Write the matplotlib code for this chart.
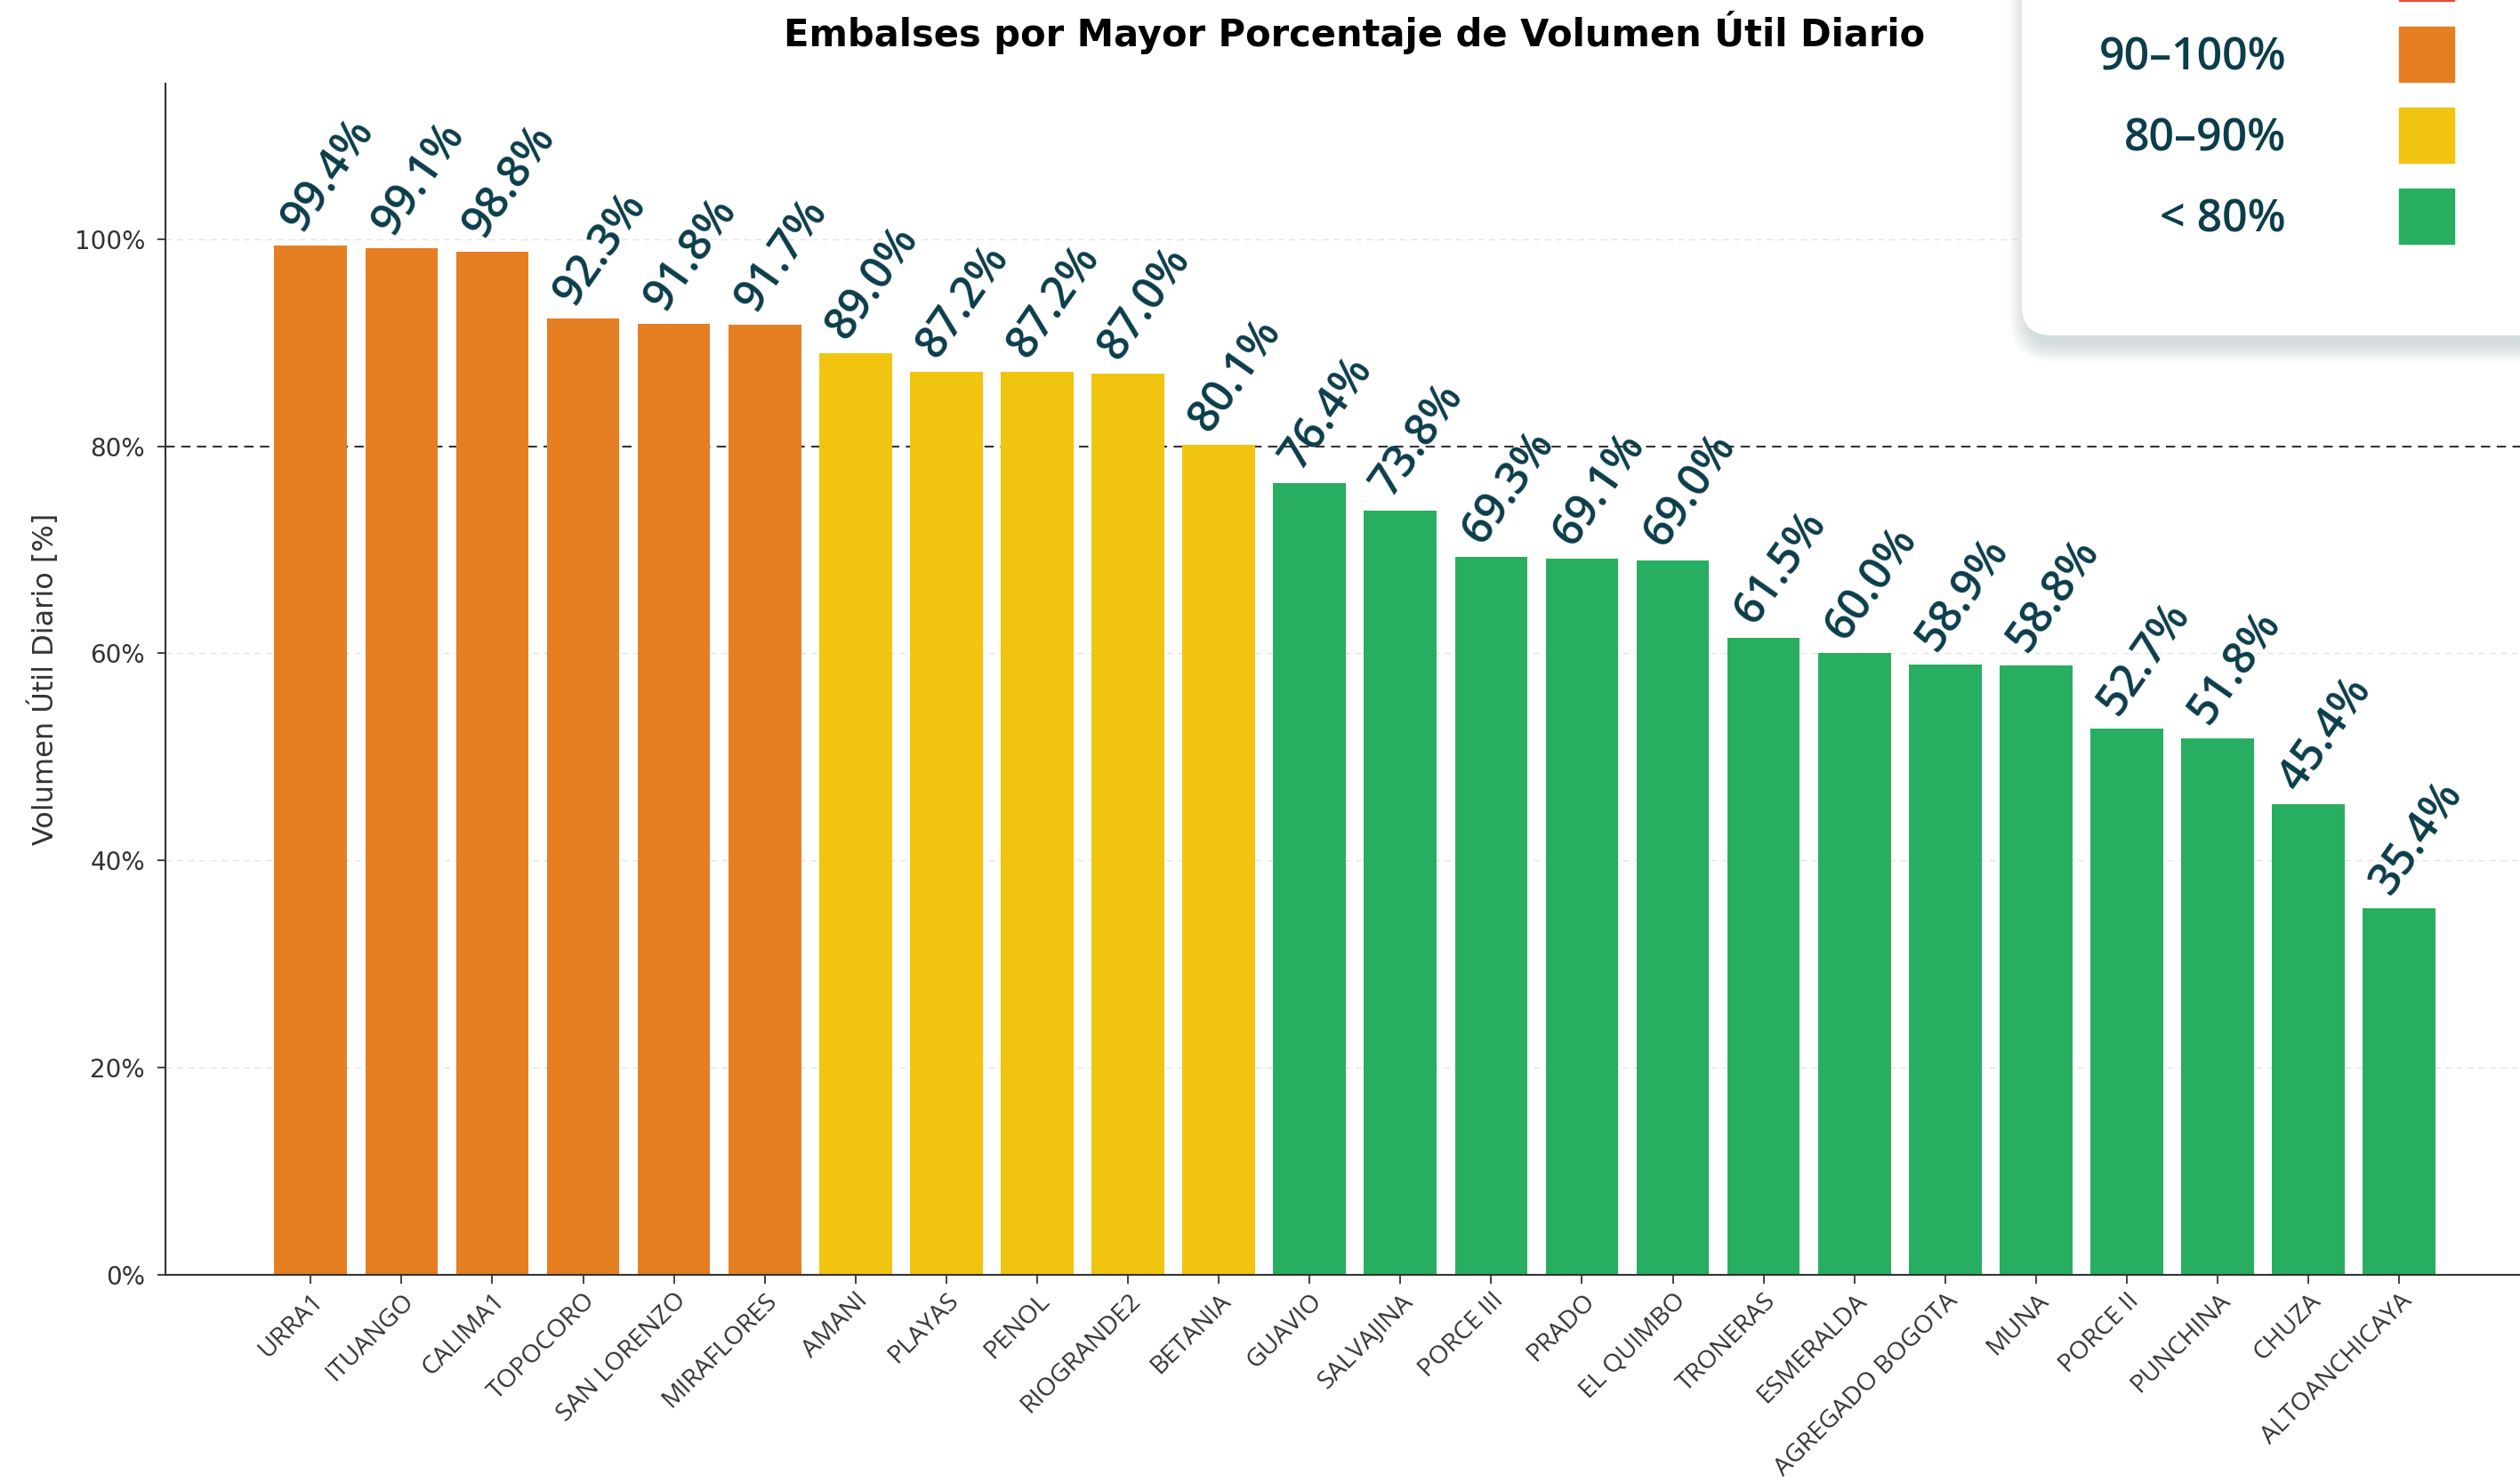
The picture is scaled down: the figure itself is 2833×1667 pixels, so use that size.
import numpy as np
import matplotlib.pyplot as plt
import matplotlib.ticker as mticker
from matplotlib.patches import FancyBboxPatch, Rectangle

# datos
embalses = ['URRA1', 'ITUANGO', 'CALIMA1', 'TOPOCORO', 'SAN LORENZO', 'MIRAFLORES',
            'AMANI', 'PLAYAS', 'PENOL', 'RIOGRANDE2', 'BETANIA', 'GUAVIO', 'SALVAJINA',
            'PORCE III', 'PRADO', 'EL QUIMBO', 'TRONERAS', 'ESMERALDA', 'AGREGADO BOGOTA',
            'MUNA', 'PORCE II', 'PUNCHINA', 'CHUZA', 'ALTOANCHICAYA']
volumen = [99.4, 99.1, 98.8, 92.3, 91.8, 91.7, 89.0, 87.2, 87.2, 87.0, 80.1, 76.4, 73.8,
           69.3, 69.1, 69.0, 61.5, 60.0, 58.9, 58.8, 52.7, 51.8, 45.4, 35.4]
umbral = 80
ticks_y = [0, 20, 40, 60, 80, 100]
tramos = ['90–100%', '80–90%', '< 80%']
colores_tramo = ['#e67e22', '#f1c40f', '#27ae60']
color_rojo = '#e74c3c'
color_texto = '#0b3d4a'

def color_de(v):
    if v >= 90:
        return colores_tramo[0]
    if v >= 80:
        return colores_tramo[1]
    return colores_tramo[2]

W, H = 2833, 1667
fig = plt.figure(figsize=(W / 100, H / 100), dpi=100)
ax = fig.add_axes([186 / W, 1 - 1433 / H, (W - 186) / W, (1433 - 94) / H])

x = np.arange(len(embalses))
ax.bar(x, volumen, width=0.8, color=[color_de(v) for v in volumen], zorder=2)
ax.set_xlim(-1.6, 24.33)
ax.set_ylim(0, 115)

ax.set_yticks(ticks_y)
ax.yaxis.set_major_formatter(mticker.FuncFormatter(lambda v, p: f'{v:.0f}%'))
# rejilla suave (sin la linea del umbral)
for t in ticks_y[1:]:
    if t != umbral:
        ax.axhline(t, linestyle=(0, (5, 4)), color='#e4e4e4', lw=1, zorder=0)
ax.axhline(umbral, color='#333333', linestyle=(0, (5, 3.5)), lw=1.5, zorder=1)

for s in ['top', 'right']:
    ax.spines[s].set_visible(False)
for s in ['left', 'bottom']:
    ax.spines[s].set_linewidth(1.5)
    ax.spines[s].set_color('#333333')

ax.set_xticks(x)
ax.set_xticklabels(embalses, rotation=45, ha='right', rotation_mode='anchor',
                   fontsize=20.5, family='Open Sans', color='#222222')
ax.tick_params(axis='x', length=7, width=1.3, pad=4, colors='#333333')
ax.tick_params(axis='y', length=6.5, width=1.3, pad=10, labelsize=20, colors='#333333')

ax.set_ylabel('Volumen Útil Diario [%]', fontsize=23, color='#333333')
ax.yaxis.set_label_coords(-0.045, 0.5)

# etiquetas de valor
for xi, v in zip(x, volumen):
    ax.text(xi - 0.1, v + 1.1, f'{v:.1f}%', rotation=55, ha='left', va='baseline',
            rotation_mode='anchor', fontsize=36, family='Open Sans',
            fontweight='semibold', color=color_texto, zorder=4)

fig.text(1523 / W, 1 - 52 / H, 'Embalses por Mayor Porcentaje de Volumen Útil Diario',
         ha='center', va='baseline', fontsize=30, fontweight='bold')

# leyenda tipo tarjeta (arriba a la derecha)
lax = fig.add_axes([0, 0, 1, 1], zorder=5)
lax.set_xlim(0, W)
lax.set_ylim(H, 0)
lax.axis('off')

for k in range(10):
    lax.add_patch(FancyBboxPatch((2279, -200), 800, 577 + 10,
                                 boxstyle=f'round,pad={k * 2.2},rounding_size={33 + k * 2}',
                                 fc='#7f979d', ec='none', alpha=0.035))
lax.add_patch(FancyBboxPatch((2273, -200), 800, 577,
                             boxstyle='round,pad=0,rounding_size=33', fc='white', ec='none'))

lax.add_patch(Rectangle((2697, -61), 62, 62, color=color_rojo))
for i, (lab, col) in enumerate(zip(tramos, colores_tramo)):
    y0 = 30 + i * 91
    lax.add_patch(Rectangle((2697, y0), 62, 62, color=col))
    lax.text(2570, y0 + 35, lab, ha='right', va='center', fontsize=36,
             family='Open Sans', fontweight='semibold', color=color_texto)

plt.savefig('out.png', dpi=100)
